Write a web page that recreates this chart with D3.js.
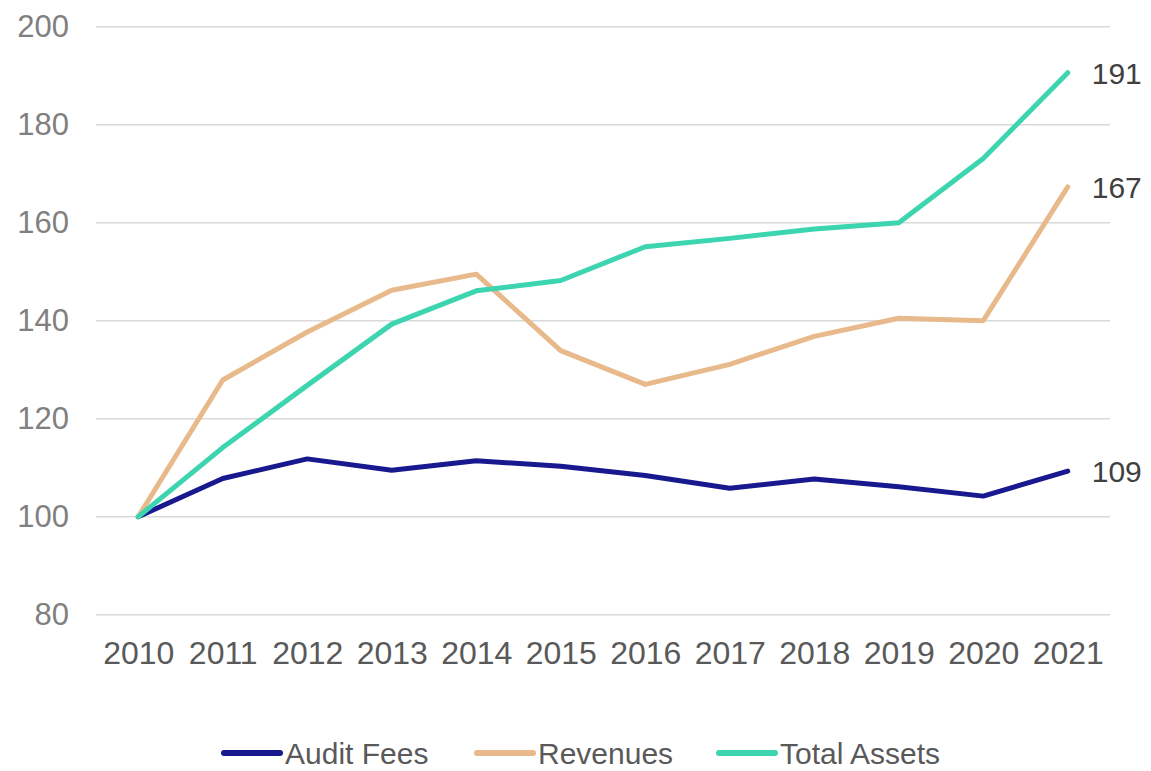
<!DOCTYPE html>
<html>
<head>
<meta charset="utf-8">
<script src="https://cdn.jsdelivr.net/npm/d3@7"></script>
<style>
  body { margin: 0; background: #fff; }
  text { font-family: "Liberation Sans", Arial, sans-serif; }
</style>
</head>
<body>
<div id="chart"></div>
<script>
// data (index, 2010 = 100)
var years = ["2010", "2011", "2012", "2013", "2014", "2015", "2016", "2017", "2018", "2019", "2020", "2021"];
var auditFees = [100, 107.8, 111.8, 109.5, 111.4, 110.3, 108.4, 105.8, 107.7, 106.1, 104.2, 109.3];
var revenues = [100, 127.9, 137.7, 146.2, 149.5, 133.9, 127.0, 131.1, 136.8, 140.5, 140.0, 167.3];
var totalAssets = [100, 114.1, 126.8, 139.3, 146.1, 148.2, 155.1, 156.8, 158.7, 160.0, 173.1, 190.6];
var seriesNames = ["Audit Fees", "Revenues", "Total Assets"];
var yTicks = [80, 100, 120, 140, 160, 180, 200];

var colors = ["#18198f", "#e8b98a", "#3dd4b0"];
var seriesValues = [auditFees, revenues, totalAssets];

var svgWidth = 1151;
var svgHeight = 771;

var svg = d3.select("#chart")
  .append("svg")
  .attr("width", svgWidth)
  .attr("height", svgHeight);

// scales
var xScale = d3.scalePoint()
  .domain(years)
  .range([96, 1110])
  .padding(0.5);

var yScale = d3.scaleLinear()
  .domain([80, 200])
  .range([614.7, 26.7]);

// gridlines
svg.append("g")
  .selectAll("line")
  .data(yTicks)
  .enter()
  .append("line")
  .attr("x1", 96)
  .attr("x2", 1110)
  .attr("y1", d => yScale(d))
  .attr("y2", d => yScale(d))
  .attr("stroke", "#d9d9d9")
  .attr("stroke-width", 1.5);

// y axis (labels only)
var yAxis = d3.axisLeft(yScale)
  .tickValues(yTicks)
  .tickSize(0)
  .tickPadding(0);

var yG = svg.append("g")
  .attr("transform", "translate(69,0)")
  .call(yAxis);
yG.select(".domain").remove();
yG.selectAll("text")
  .attr("font-size", "31px")
  .attr("font-family", "Liberation Sans, Arial, sans-serif")
  .attr("fill", "#808080");

// x axis (labels only)
var xAxis = d3.axisBottom(xScale)
  .tickSize(0)
  .tickPadding(0);

var xG = svg.append("g")
  .attr("transform", "translate(0,641)")
  .call(xAxis);
xG.select(".domain").remove();
xG.selectAll("text")
  .attr("font-size", "32px")
  .attr("font-family", "Liberation Sans, Arial, sans-serif")
  .attr("fill", "#595959")
  .attr("dy", "0.72em");

// lines
var line = d3.line()
  .x((d, i) => xScale(years[i]))
  .y(d => yScale(d));

svg.append("g")
  .selectAll("path")
  .data(seriesValues)
  .enter()
  .append("path")
  .attr("d", d => line(d))
  .attr("fill", "none")
  .attr("stroke", (d, i) => colors[i])
  .attr("stroke-width", 5)
  .attr("stroke-linejoin", "round")
  .attr("stroke-linecap", "round");

// end labels
svg.append("g")
  .selectAll("text")
  .data(seriesValues)
  .enter()
  .append("text")
  .attr("x", xScale(years[years.length - 1]) + 24)
  .attr("y", d => yScale(d[d.length - 1]))
  .attr("dy", "0.36em")
  .attr("font-size", "30px")
  .attr("fill", "#404040")
  .text(d => Math.round(d[d.length - 1]));

// legend (kept just inside the bottom edge)
var legendX = [224, 477, 719];
var legend = svg.append("g")
  .selectAll("g")
  .data(seriesNames)
  .enter()
  .append("g")
  .attr("transform", (d, i) => `translate(${legendX[i]}, 753)`);

legend.append("line")
  .attr("x1", 0)
  .attr("x2", 56)
  .attr("stroke", (d, i) => colors[i])
  .attr("stroke-width", 6)
  .attr("stroke-linecap", "round");

legend.append("text")
  .attr("x", 61)
  .attr("y", 0)
  .attr("dy", "0.36em")
  .attr("font-size", "30px")
  .attr("fill", "#595959")
  .text(d => d);
</script>
</body>
</html>
